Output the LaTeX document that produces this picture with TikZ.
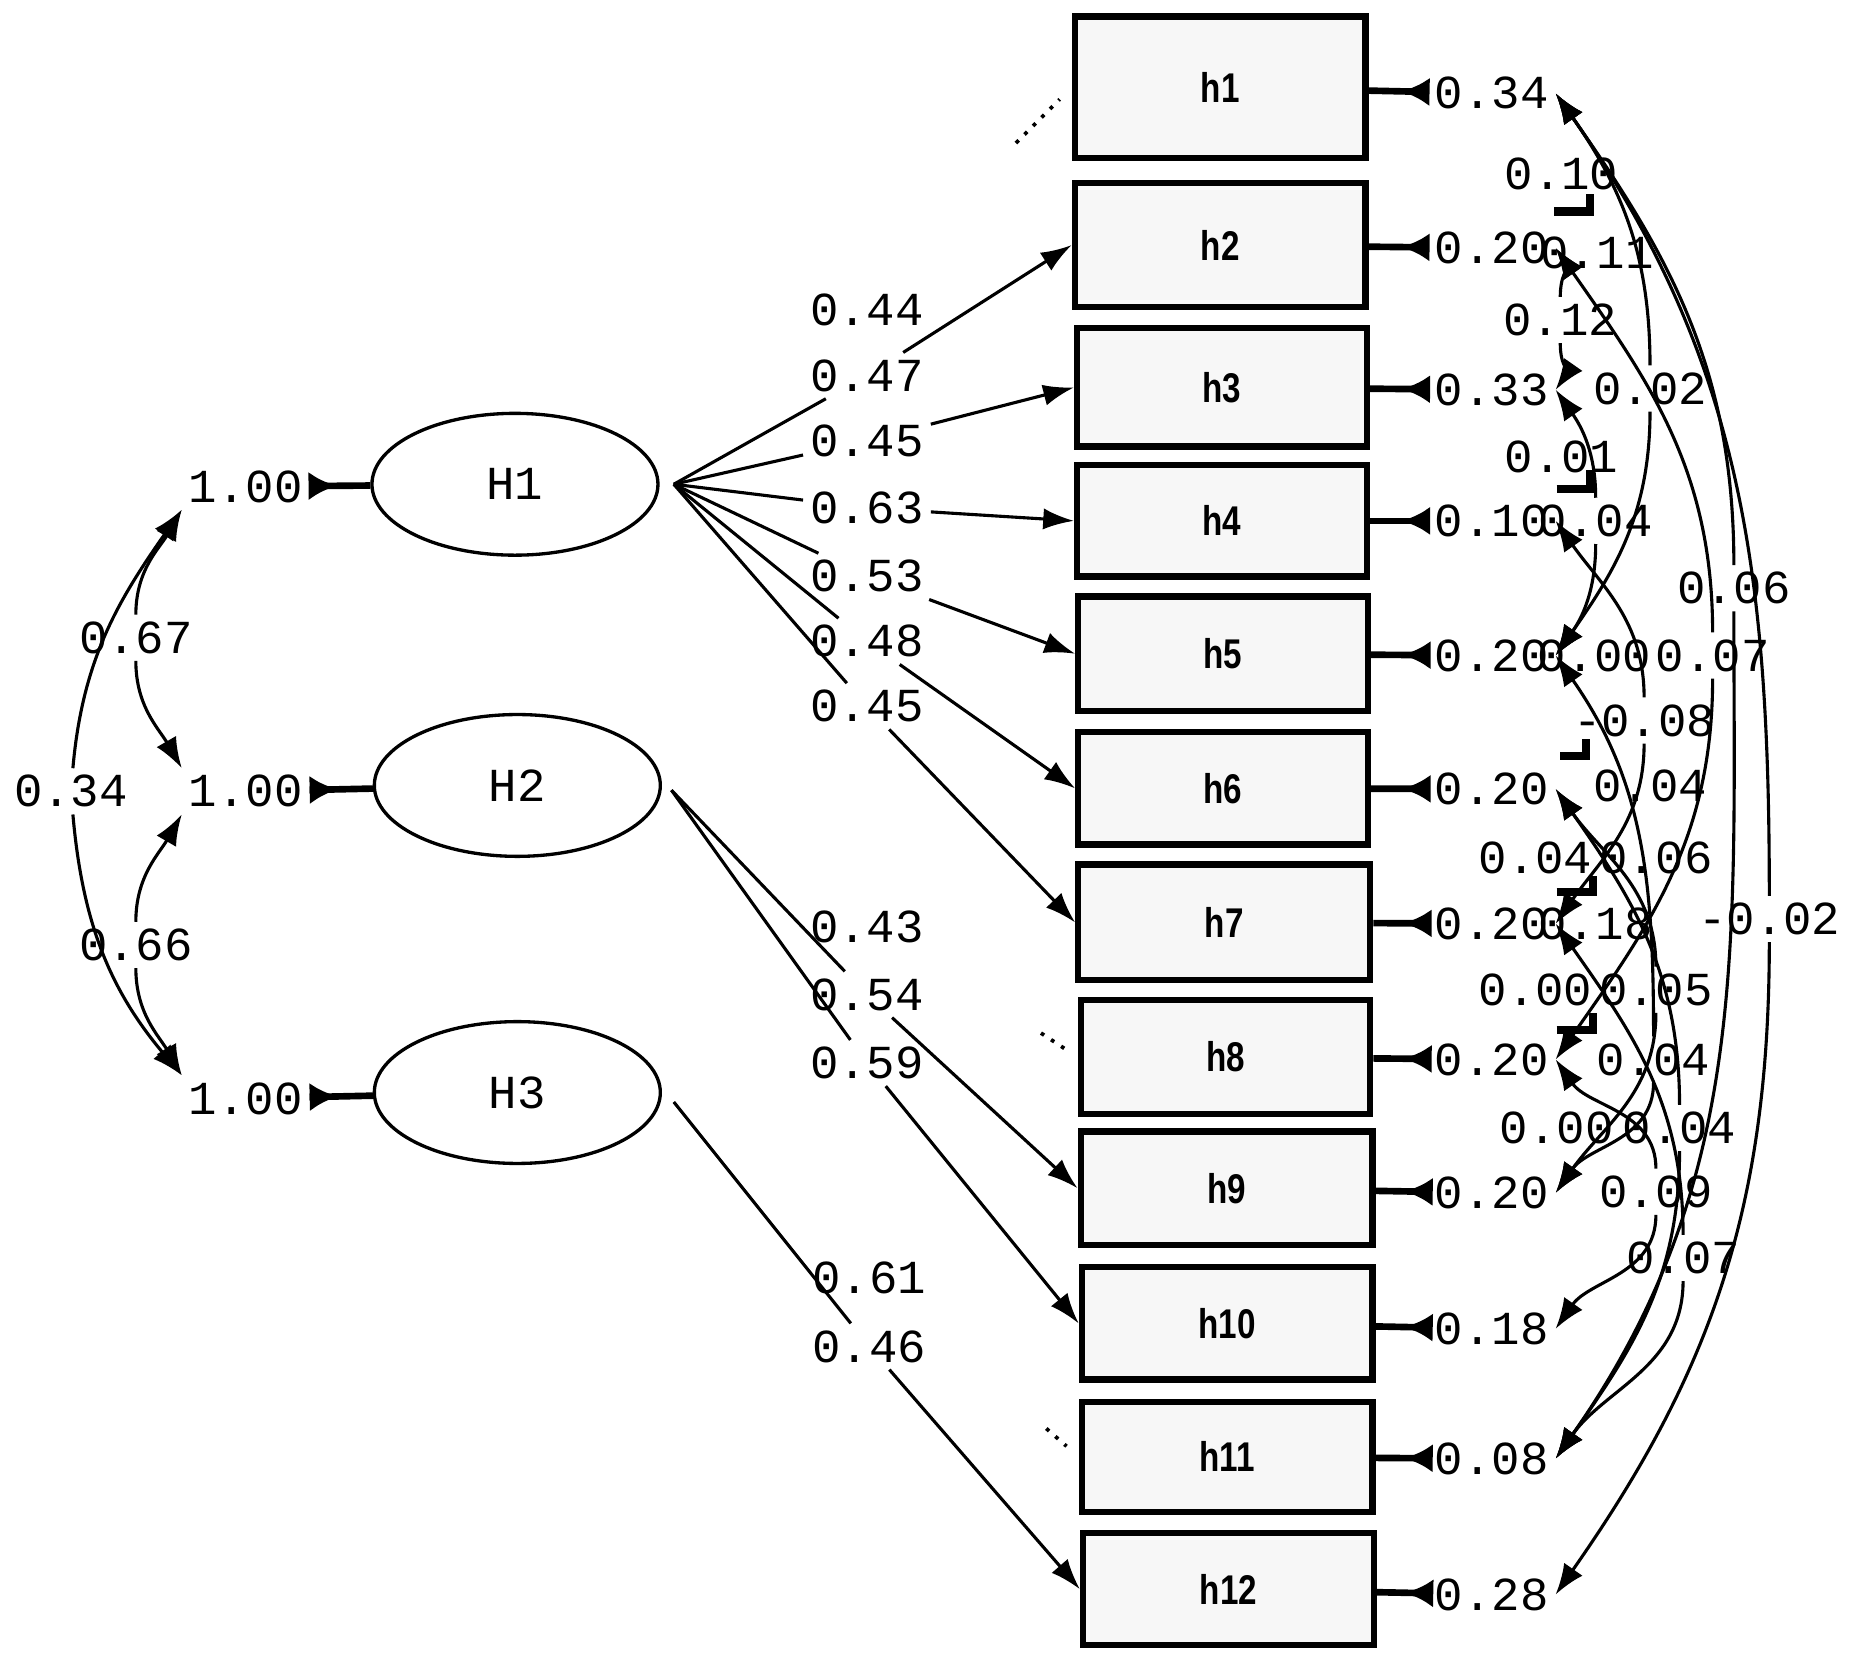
\documentclass[tikz,border=0pt]{standalone}
\usepackage{fontspec}
\setmainfont{Liberation Serif}
\newfontfamily\numfont{Liberation Mono}
\newfontfamily\hfont[FakeStretch=0.8]{Liberation Sans}
\usetikzlibrary{shapes.geometric,arrows.meta,decorations.markings,calc}
\begin{document}
\begin{tikzpicture}[x=0.01cm,y=-0.01cm,
  num/.style={font=\numfont\fontsize{11.4}{13}\selectfont, inner sep=1.5pt},
  hbox/.style={draw, line width=1.5pt, fill=black!3, font=\hfont\bfseries\fontsize{10}{11}\selectfont, inner sep=0pt},
  lat/.style={draw, ellipse, line width=0.8pt, minimum width=2.42cm, minimum height=1.2cm, inner sep=0pt, font=\numfont\fontsize{11.4}{13}\selectfont},
  load/.style={line width=0.75pt, -{Latex[length=0.26cm,width=0.18cm]}},
  plain/.style={line width=0.75pt},
  cov/.style={line width=0.75pt, -{Latex[length=0.26cm,width=0.19cm]}},
  resid/.style={line width=1.6pt, postaction={decorate}, decoration={markings, mark=at position 0.45 with {\arrow{Latex[length=0.24cm,width=0.24cm]}}}},
  faint/.style={line width=0.9pt, dotted},
  tickmark/.style={line width=2pt},
]
\useasboundingbox (0,0) rectangle (1568,1406);

% latent variables
\node[lat] (H1) at (436,410) {H1};
\node[lat] (H2) at (438,665) {H2};
\node[lat] (H3) at (438,925) {H3};
\coordinate (H1o) at ([xshift=0.12cm]H1.east);
\coordinate (H2o) at ([xshift=0.08cm,yshift=-0.04cm]H2.east);
\coordinate (H3o) at ([xshift=0.1cm,yshift=-0.08cm]H3.east);

% variances of latent variables
\node[num] (v1) at (208,412) {1.00};
\node[num] (v2) at (208,670) {1.00};
\node[num] (v3) at (208,930) {1.00};
\draw[resid] (v1) -- (H1);
\draw[resid] (v2) -- (H2);
\draw[resid] (v3) -- (H3);

% covariances of latent variables
\node[num] (c67) at (115,540) {0.67};
\node[num] (c34) at (60,670) {0.34};
\node[num] (c66) at (115,800) {0.66};
\draw[cov] (c67) to[out=90,in=-120] (v1.south west);
\draw[cov] (c67) to[out=-90,in=120] (v2.north west);
\draw[cov] (c34) to[out=85,in=-125] (v1.south west);
\draw[cov] (c34) to[out=-85,in=130] (v3.north west);
\draw[cov] (c66) to[out=90,in=-120] (v2.south west);
\draw[cov] (c66) to[out=-90,in=120] (v3.north west);

% observed variables
\node[hbox, minimum width=2.46cm, minimum height=1.20cm] (h1) at (1033,74) {h1};
\node[hbox, minimum width=2.46cm, minimum height=1.05cm] (h2) at (1033,207.5) {h2};
\node[hbox, minimum width=2.45cm, minimum height=1.00cm] (h3) at (1034.5,328) {h3};
\node[hbox, minimum width=2.45cm, minimum height=0.94cm] (h4) at (1034.5,441) {h4};
\node[hbox, minimum width=2.45cm, minimum height=0.97cm] (h5) at (1035.5,553.5) {h5};
\node[hbox, minimum width=2.45cm, minimum height=0.95cm] (h6) at (1035.5,667.5) {h6};
\node[hbox, minimum width=2.47cm, minimum height=0.98cm] (h7) at (1036.5,781) {h7};
\node[hbox, minimum width=2.45cm, minimum height=0.96cm] (h8) at (1037.5,895) {h8};
\node[hbox, minimum width=2.47cm, minimum height=0.96cm] (h9) at (1038.5,1006) {h9};
\node[hbox, minimum width=2.46cm, minimum height=0.95cm] (h10) at (1039,1120.5) {h10};
\node[hbox, minimum width=2.46cm, minimum height=0.93cm] (h11) at (1039,1233.5) {h11};
\node[hbox, minimum width=2.46cm, minimum height=0.95cm] (h12) at (1040,1345.5) {h12};

% loading labels
\node[num] (l1) at (734,262) {0.44};
\node[num] (l2) at (734,318) {0.47};
\node[num] (l3) at (734,373) {0.45};
\node[num] (l4) at (734,430) {0.63};
\node[num] (l5) at (734,488) {0.53};
\node[num] (l6) at (734,543) {0.48};
\node[num] (l7) at (734,598) {0.45};
\node[num] (l8) at (734,785) {0.43};
\node[num] (l9) at (734,842) {0.54};
\node[num] (l10) at (734,900) {0.59};
\node[num] (l11) at (736,1082) {0.61};
\node[num] (l12) at (736,1140) {0.46};

% loadings
\foreach \l/\h/\s in {l2/h2/H1o,l3/h3/H1o,l4/h4/H1o,l5/h5/H1o,l6/h6/H1o,l7/h7/H1o,l9/h9/H2o,l10/h10/H2o,l12/h12/H3o}{
  \draw[plain] (\s) -- (\l);
  \draw[load] (\l) -- (\h.west);
}
% faint (nearly lost) loadings
\draw[faint] ($(H1o)!0.86!(h1.west)$) -- ($(H1o)!0.97!(h1.west)$);
\draw[faint] ($(H2o)!0.91!(h8.west)$) -- ($(H2o)!0.97!(h8.west)$);
\draw[faint] ($(H3o)!0.92!(h11.west)$) -- ($(H3o)!0.97!(h11.west)$);

% error variances
\node[num] (e1) at (1263,79) {0.34};
\node[num] (e2) at (1263,210) {0.20};
\node[num] (e3) at (1263,330) {0.33};
\node[num] (e4) at (1263,441) {0.10};
\node[num] (e5) at (1263,555) {0.20};
\node[num] (e6) at (1263,668) {0.20};
\node[num] (e7) at (1263,782) {0.20};
\node[num] (e8) at (1263,897) {0.20};
\node[num] (e9) at (1263,1010) {0.20};
\node[num] (e10) at (1263,1125) {0.18};
\node[num] (e11) at (1263,1235) {0.08};
\node[num] (e12) at (1263,1350) {0.28};
\foreach \i in {1,...,12}{\draw[resid] (e\i) -- (h\i);}

% error covariance labels
\node[num] (r1) at (1322,147) {0.10};
\node[num] (r2) at (1352,214) {0.11};
\node[num] (r3) at (1321,271) {0.12};
\node[num] (r4) at (1397,329) {0.02};
\node[num] (r5) at (1322,387) {0.01};
\node[num] (r6) at (1351,441) {0.04};
\node[num] (r7) at (1468,498) {0.06};
\node[num] (r8) at (1350,555) {0.00};
\node[num] (r9) at (1450,555) {0.07};
\node[num] (r10) at (1392,610) {-0.08};
\node[num] (r11) at (1397,665) {0.04};
\node[num] (r12) at (1300,726) {0.04};
\node[num] (r13) at (1402,726) {0.06};
\node[num] (r14) at (1351,782) {0.18};
\node[num] (r15) at (1498,778) {-0.02};
\node[num] (r16) at (1300,838) {0.00};
\node[num] (r17) at (1402,838) {0.05};
\node[num] (r18) at (1400,897) {0.04};
\node[num] (r19) at (1318,955) {0.00};
\node[num] (r20) at (1422,955) {0.04};
\node[num] (r21) at (1402,1009) {0.09};
\node[num] (r22) at (1425,1065) {0.07};

% error covariances
\foreach \r/\a/\b in {r15/e1/e12, r7/e1/e11, r4/e1/e5, r3/e2/e3, r9/e2/e8, r6/e3/e5, r10/e4/e7, r18/e5/e9, r20/e6/e11, r17/e6/e9, r21/e8/e10, r22/e7/e11}{
  \draw[cov] (\r) to[out=90,in=-55] (\a.east);
  \draw[cov] (\r) to[out=-90,in=55] (\b.east);
}

% broken arrow-head fragments
\draw[tickmark] (1316,179) -- (1346,179) -- (1346,164);
\draw[tickmark] (1318,414) -- (1346,414) -- (1346,398);
\draw[tickmark] (1321,640) -- (1343,640) -- (1343,626);
\draw[tickmark] (1318,755) -- (1349,755) -- (1349,742);
\draw[tickmark] (1318,872) -- (1349,872) -- (1349,858);
\end{tikzpicture}
\end{document}
